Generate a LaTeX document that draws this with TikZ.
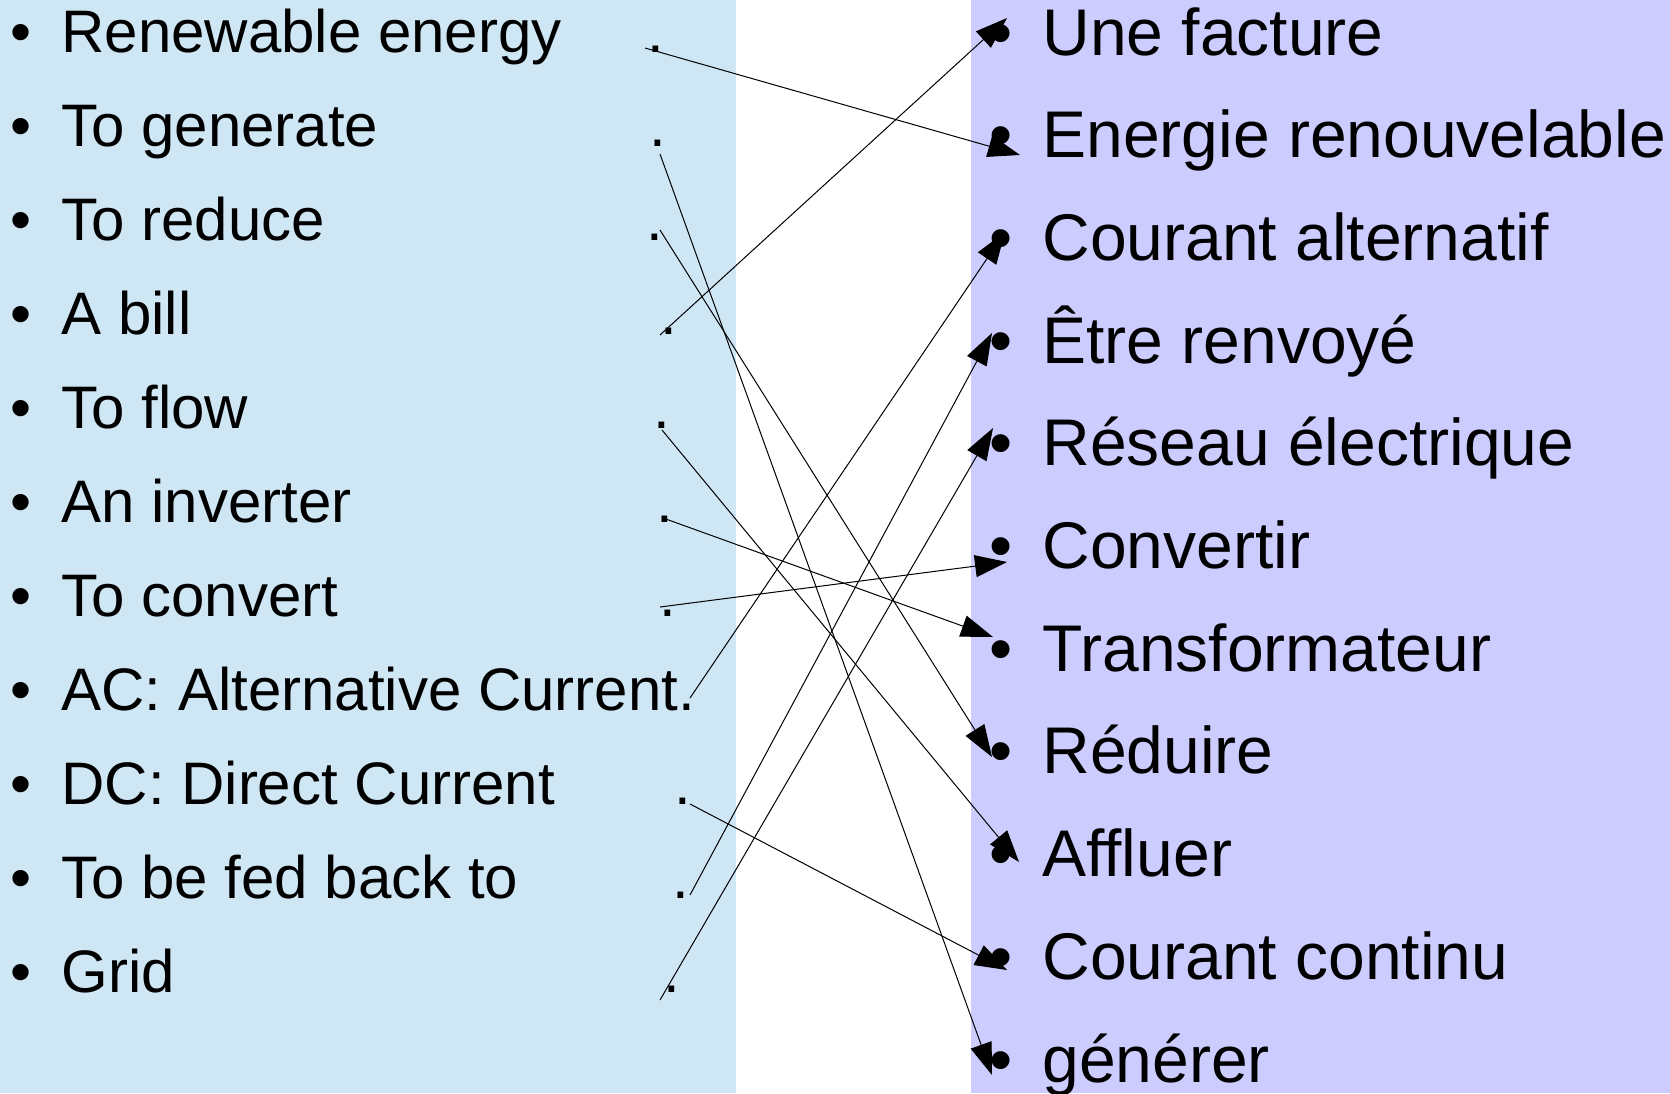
\documentclass[tikz,border=0pt]{standalone}
\usepackage{fontspec}
\setmainfont{Liberation Sans}
\usetikzlibrary{arrows.meta}
\definecolor{leftblue}{RGB}{207,231,245}
\definecolor{rightlav}{RGB}{204,204,255}
\tikzset{
  en/.style={anchor=base west, inner sep=0pt, font=\fontsize{30}{36}\selectfont},
  fr/.style={anchor=base west, inner sep=0pt, font=\fontsize{33}{40}\selectfont},
  stop/.style={anchor=base, inner sep=0pt, font=\fontsize{30}{36}\selectfont},
  link/.style={-{Triangle[length=16pt,width=11pt]}, line width=0.5pt},
}
\newcommand{\enbul}{\hbox to 25.25pt{\textbullet\hfil}}
\newcommand{\frbul}{\hbox to 26.25pt{\textbullet\hfil}}
\begin{document}
\begin{tikzpicture}[x=0.5pt, y=-0.5pt]
\useasboundingbox (0,0) rectangle (1670,1093);
\fill[leftblue] (0,0) rectangle (736,1093);
\fill[rightlav] (971,0) rectangle (1670,1093);

% english words
\node[en] (renew) at (10.5,52) {\enbul Renewable energy};
\node[en] (gen) at (10.5,146) {\enbul To generate};
\node[en] (red) at (10.5,240) {\enbul To reduce};
\node[en] (bill) at (10.5,334) {\enbul A bill};
\node[en] (flow) at (10.5,428) {\enbul To flow};
\node[en] (inv) at (10.5,522) {\enbul An inverter};
\node[en] (conv) at (10.5,616) {\enbul To convert};
\node[en] (ac) at (10.5,710) {\enbul AC: Alternative Current.};
\node[en] (dc) at (10.5,804) {\enbul DC: Direct Current};
\node[en] (fed) at (10.5,898) {\enbul To be fed back to};
\node[en] (grid) at (10.5,992) {\enbul Grid};

% the dots
\node[stop] (p1) at (656,52) {.};
\node[stop] (p2) at (658,146) {.};
\node[stop] (p3) at (655,240) {.};
\node[stop] (p4) at (669,334) {.};
\node[stop] (p5) at (662,428) {.};
\node[stop] (p6) at (665,522) {.};
\node[stop] (p7) at (668,616) {.};
\node[stop] (p9) at (683,804) {.};
\node[stop] (p10) at (681,898) {.};
\node[stop] (p11) at (672,992) {.};

% french words
\node[fr] (facture) at (989.5,55) {\frbul Une facture};
\node[fr] (energie) at (989.5,157.7) {\frbul Energie renouvelable};
\node[fr] (alt) at (989.5,260.4) {\frbul Courant alternatif};
\node[fr] (renvoye) at (989.5,363.1) {\frbul Être renvoyé};
\node[fr] (reseau) at (989.5,465.8) {\frbul Réseau électrique};
\node[fr] (convertir) at (989.5,568.5) {\frbul Convertir};
\node[fr] (transfo) at (989.5,671.2) {\frbul Transformateur};
\node[fr] (reduire) at (989.5,773.9) {\frbul Réduire};
\node[fr] (affluer) at (989.5,876.6) {\frbul Affluer};
\node[fr] (continu) at (989.5,979.3) {\frbul Courant continu};
\node[fr] (generer) at (989.5,1082) {\frbul générer};

% line ends
\coordinate (s1) at (645,48);   \coordinate (e1) at (1020,155);
\coordinate (s2) at (660,154);  \coordinate (e2) at (992,1075);
\coordinate (s3) at (660,230);  \coordinate (e3) at (992,757);
\coordinate (s4) at (660,335);  \coordinate (e4) at (1007,18);
\coordinate (s5) at (662,430);  \coordinate (e5) at (1019,862);
\coordinate (s6) at (663,518);  \coordinate (e6) at (993,637);
\coordinate (s7) at (660,607);  \coordinate (e7) at (1007,562);
\coordinate (s8) at (690,698);  \coordinate (e8) at (1005,232);
\coordinate (s9) at (690,804);  \coordinate (e9) at (1007,970);
\coordinate (s10) at (690,895); \coordinate (e10) at (992,333);
\coordinate (s11) at (660,1000); \coordinate (e11) at (993,428);

\draw[link] (s1) -- (e1);
\draw[link] (s2) -- (e2);
\draw[link] (s3) -- (e3);
\draw[link] (s4) -- (e4);
\draw[link] (s5) -- (e5);
\draw[link] (s6) -- (e6);
\draw[link] (s7) -- (e7);
\draw[link] (s8) -- (e8);
\draw[link] (s9) -- (e9);
\draw[link] (s10) -- (e10);
\draw[link] (s11) -- (e11);
\end{tikzpicture}
\end{document}
